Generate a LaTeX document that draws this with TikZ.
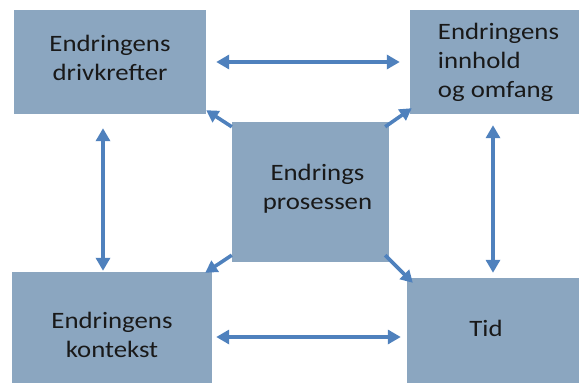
\documentclass[tikz,border=0pt]{standalone}
\usepackage{fontspec}
\setmainfont{Carlito}[FakeStretch=1.14]
\usetikzlibrary{arrows.meta,calc}
\definecolor{boxfill}{RGB}{139,166,192}
\definecolor{arrowblue}{RGB}{79,129,189}
\definecolor{txt}{RGB}{25,25,25}
\newcommand\boxtxt[3]{\raisebox{#1}[0pt][0pt]{\begin{tabular}[b]{@{}#2@{}}#3\end{tabular}}}
\tikzset{
  box/.style={draw=none, fill=boxfill, inner sep=0pt, text=txt,
    font=\fontsize{23.5}{29}\selectfont},
  link/.style={draw=arrowblue, line width=3.6pt,
    {Triangle[length=13pt,width=14pt]}-{Triangle[length=13pt,width=14pt]}},
  onelink/.style={draw=arrowblue, line width=3.6pt,
    -{Triangle[length=12pt,width=13pt]}}
}
\begin{document}
\begin{tikzpicture}[x=1pt,y=-1pt]
\useasboundingbox (0,0) rectangle (579,383);
\node[box, minimum width=192pt, minimum height=104pt] (tl) at (110,62) {\boxtxt{-18pt}{c}{Endringens\\drivkrefter}};
\node[box, minimum width=169pt, minimum height=104pt] (tr) at (494.5,62) {\hspace*{8pt}\boxtxt{-35pt}{l}{Endringens\\innhold\\og omfang}};
\node[box, minimum width=157pt, minimum height=140pt] (c) at (310.5,192) {\hspace*{14pt}\boxtxt{-17pt}{c}{Endrings\\prosessen}};
\node[box, minimum width=200pt, minimum height=111pt] (bl) at (112,327.5) {\boxtxt{-29.5pt}{c}{Endringens\\kontekst}};
\node[box, minimum width=172pt, minimum height=105pt] (br) at (493,330.5) {\hspace*{-14pt}\boxtxt{-5.5pt}{c}{Tid}};
\coordinate (lx) at (103,0);
\coordinate (rx) at (493,0);
\coordinate (by) at (0,337);
\draw[link, shorten <=10pt, shorten >=10pt] (tl.east) -- (tr.west);
\draw[link, shorten <=4pt, shorten >=6pt] (bl.east |- by) -- (br.west |- by);
\draw[link, shorten <=14pt, shorten >=1pt] (tl.south -| lx) -- (bl.north -| lx);
\draw[link, shorten <=11pt, shorten >=5pt] (tr.south -| rx) -- (br.north -| rx);
\draw[onelink] ($(c.north west)+(0,5)$) -- ($(tl.south east)+(0,-4)$);
\draw[onelink] ($(c.north east)+(-4,5)$) -- ($(tr.south west)+(2,-6)$);
\draw[onelink] ($(c.south west)+(0,-7)$) -- ($(bl.north east)+(-7,1)$);
\draw[onelink] ($(c.south east)+(-4,-7)$) -- ($(br.north west)+(6,5)$);
\end{tikzpicture}
\end{document}
